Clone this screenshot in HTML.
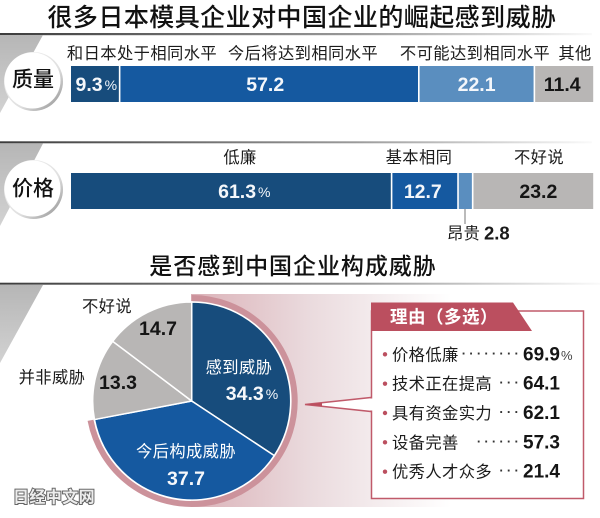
<!DOCTYPE html>
<html lang="zh">
<head>
<meta charset="utf-8">
<title>很多日本模具企业对中国企业的崛起感到威胁</title>
<style>
html,body{margin:0;padding:0;background:#fff;}
#chart{display:block;width:600px;height:518px;}
text{font-family:"Liberation Sans","Noto Sans CJK SC",sans-serif;dominant-baseline:central;}
.cjk{font-size:16.3px;letter-spacing:.4px;fill:#1c1c1c;}
.num{font-size:19.5px;font-weight:bold;}
.head{font-size:25px;font-weight:500;letter-spacing:.45px;fill:#111;text-anchor:middle;}
.mid{text-anchor:middle;}
</style>
</head>
<body>
<svg id="chart" xmlns="http://www.w3.org/2000/svg" width="600" height="518" viewBox="0 0 600 518">
<defs>
<linearGradient id="ruleGrad" x1="0" x2="1" y1="0" y2="0"><stop offset="0" stop-color="#3c3c3c"/><stop offset=".6" stop-color="#9a9a9a"/><stop offset="1" stop-color="#fafafa"/></linearGradient>
<linearGradient id="wedgeGrad" x1="0" x2="0" y1="0" y2="1"><stop offset="0" stop-color="#b6b6b6"/><stop offset="1" stop-color="#d2d2d2"/></linearGradient>
<linearGradient id="pinkGrad" x1="0" x2="1" y1="0" y2="0"><stop offset="0" stop-color="#dbb2b8"/><stop offset=".45" stop-color="#eadadd"/><stop offset="1" stop-color="#ffffff"/></linearGradient>
<linearGradient id="discGrad" x1="0" x2="1" y1="0" y2="1"><stop offset="0" stop-color="#f4f4f4"/><stop offset=".6" stop-color="#e0e0e0"/><stop offset="1" stop-color="#8a8a8a"/></linearGradient>
</defs>

<text class="head" x="302" y="18">很多日本模具企业对中国企业的崛起感到威胁</text>
<rect x="0" y="33" width="592" height="2.2" fill="url(#ruleGrad)"/>
<polygon points="0,35 43,35 0,113" fill="url(#wedgeGrad)"/>
<circle cx="33.5" cy="81.5" r="29.5" fill="url(#discGrad)"/>
<circle cx="32.5" cy="80.5" r="28" fill="#fff"/>
<text x="33" y="80" class="mid" font-size="21" font-weight="500" fill="#111">质量</text>

<text class="cjk mid" x="142" y="54">和日本处于相同水平</text>
<text class="cjk mid" x="303" y="54">今后将达到相同水平</text>
<text class="cjk mid" x="475" y="54">不可能达到相同水平</text>
<text class="cjk mid" x="575" y="54">其他</text>

<rect x="0" y="141.3" width="592" height="2" fill="url(#ruleGrad)"/>
<polygon points="0,143.5 43,143.5 0,226" fill="url(#wedgeGrad)"/>
<circle cx="33.5" cy="189.5" r="29.5" fill="url(#discGrad)"/>
<circle cx="32.5" cy="188.5" r="28" fill="#fff"/>
<text x="33" y="189" class="mid" font-size="21" font-weight="500" fill="#111">价格</text>

<text class="cjk mid" x="240" y="158">低廉</text>
<text class="cjk mid" x="419" y="158">基本相同</text>
<text class="cjk mid" x="539" y="158">不好说</text>
<line x1="465" y1="209" x2="465" y2="224" stroke="#777" stroke-width="1"/>
<text class="cjk" x="447" y="234">昂贵</text>
<text id="expensiveValue" x="484" y="233" font-size="18.5" font-weight="bold" fill="#1a1a1a"></text>

<text x="293" y="266" class="mid" font-size="23" font-weight="500" letter-spacing=".95" fill="#111">是否感到中国企业构成威胁</text>
<rect x="0" y="282.7" width="600" height="2" fill="url(#ruleGrad)"/>
<polygon points="0,285 43,285 0,363" fill="url(#wedgeGrad)"/>
<rect x="191" y="294" width="260" height="213" fill="url(#pinkGrad)"/>

<g id="bars"></g>
<g id="pie"></g>

<text class="cjk mid" x="107" y="307">不好说</text>
<text class="cjk mid" x="52" y="378">并非威胁</text>
<text class="cjk mid" x="239" y="368" style="fill:#fff">感到威胁</text>
<text class="cjk mid" x="186" y="452" style="fill:#fff">今后构成威胁</text>

<polygon points="305,404.5 371,397.5 371,411.5" fill="#fff" stroke="#c05a6a" stroke-width="1.5" stroke-linejoin="miter"/>
<polygon points="305,404.5 322,402.7 322,406.3" fill="#bb4f5f"/>
<rect x="371.5" y="311" width="212" height="187.5" fill="#fff" stroke="#c05a6a" stroke-width="1.5"/>
<rect x="370" y="398.5" width="4" height="12" fill="#fff"/>
<polygon points="371,302.5 513,302.5 532,331 371,331" fill="#bb4f5f"/>
<text x="390" y="317" font-size="17.5" font-weight="bold" fill="#fff" letter-spacing=".5">理由（多选）</text>
<g id="reasons"></g>

<text x="13" y="498" font-size="16" font-weight="bold" letter-spacing=".4" fill="#ededed" stroke="#666" stroke-width="2" paint-order="stroke">日经中文网</text>
</svg>

<script>
// Chart data
const qualityValues = [9.3, 57.2, 22.1, 11.4];
const priceValues = [61.3, 12.7, 2.8, 23.2];
const pieValues = [34.3, 37.7, 13.3, 14.7];
const reasonNames = ['价格低廉', '技术正在提高', '具有资金实力', '设备完善', '优秀人才众多'];
const reasonValues = [69.9, 64.1, 62.1, 57.3, 21.4];
const reasonDots = [8, 3, 3, 6, 3];

const NS = 'http://www.w3.org/2000/svg';
const segColors = ['#174c7c', '#1559a0', '#5a8ebf', '#b8b6b5'];
const pieColors = ['#174c7c', '#1559a0', '#b8b6b5', '#b8b6b5'];

function mk(tag, attrs, parent) {
  const el = document.createElementNS(NS, tag);
  for (const k in attrs) el.setAttribute(k, attrs[k]);
  parent.appendChild(el);
  return el;
}

// Horizontal percentage axis
const barX0 = 71, barX1 = 594;
function xScale(cum) { return barX0 + cum / 100 * (barX1 - barX0); }

function drawBar(values, y, h, colors, prefix, labelOffsets, textColors) {
  const g = document.getElementById('bars');
  let cum = 0;
  values.forEach(function (v, i) {
    const x0 = xScale(cum), x1 = xScale(cum + v);
    const r = mk('rect', {x: x0 + (i ? 0.8 : 0), y: y, width: x1 - x0 - (i ? 1.6 : 0.8), height: h, fill: colors[i]}, g);
    
    
    if (textColors[i]) {
      const t = mk('text', {x: (x0 + x1) / 2 + labelOffsets[i], y: y + h / 2 + 1, 'class': 'num', 'text-anchor': 'middle', fill: textColors[i]}, g);
      
      
      t.textContent = v.toFixed(1);
      if (i === 0) {
        const s = mk('tspan', {'font-size': '14', 'font-weight': 'normal', dx: '2'}, t);
        s.textContent = '%';
      }
    }
    cum += v;
  });
}

drawBar(qualityValues, 66, 36, segColors, 'quality-bar', [1, -4, 0, -2], ['#f4f7fb', '#f4f7fb', '#f4f7fb', '#151515']);
drawBar(priceValues, 173, 36, segColors, 'price-bar', [13, -2, 0, 5], ['#f4f7fb', '#f4f7fb', null, '#151515']);
document.getElementById('expensiveValue').textContent = priceValues[2].toFixed(1);

// Pie: angle scale starts at 12 o'clock, clockwise
const cx = 191.7, cy = 401, pieR = 99, ringR = 103;
function px(cum, r) { return cx + r * Math.sin(cum / 100 * 2 * Math.PI); }
function py(cum, r) { return cy - r * Math.cos(cum / 100 * 2 * Math.PI); }
const pieG = document.getElementById('pie');

const ringEnd = pieValues[0] + pieValues[1];
const ring = mk('path', {
  d: 'M' + px(0, ringR) + ' ' + py(0, ringR) + ' A' + ringR + ' ' + ringR + ' 0 ' + (ringEnd > 50 ? 1 : 0) + ' 1 ' + px(ringEnd, ringR) + ' ' + py(ringEnd, ringR),
  fill: 'none', stroke: '#cc929b', 'stroke-width': 6
}, pieG);



let pieCum = 0;
pieValues.forEach(function (v, i) {
  const a = pieCum, b = pieCum + v;
  const p = mk('path', {
    d: 'M' + cx + ' ' + cy + ' L' + px(a, pieR) + ' ' + py(a, pieR) + ' A' + pieR + ' ' + pieR + ' 0 ' + (v > 50 ? 1 : 0) + ' 1 ' + px(b, pieR) + ' ' + py(b, pieR) + ' Z',
    fill: pieColors[i], stroke: '#fff', 'stroke-width': 1.5
  }, pieG);
  
  
  pieCum = b;
});

function pieText(value, x, y, color, withPct) {
  const t = mk('text', {x: x, y: y, 'class': 'num', 'text-anchor': 'middle', fill: color}, pieG);
  
  
  t.textContent = value.toFixed(1);
  if (withPct) {
    const s = mk('tspan', {'font-size': '14', 'font-weight': 'normal', dx: '2'}, t);
    s.textContent = '%';
  }
}
pieText(pieValues[0], 252, 394, '#f6f8fb', true);
pieText(pieValues[1], 186, 479, '#f6f8fb', false);
pieText(pieValues[2], 118, 383, '#151515', false);
pieText(pieValues[3], 158, 329, '#151515', false);

// Reasons list
const listG = document.getElementById('reasons');
reasonNames.forEach(function (name, i) {
  const y = 354.3 + i * 29.35;
  const b = mk('circle', {cx: 385, cy: y, r: 2.2, fill: '#bb4f5f'}, listG);
  
  
  const t = mk('text', {x: 392, y: y + 1, 'class': 'cjk'}, listG);
  
  
  t.textContent = name;
  const d = mk('text', {x: 522, y: y - 1, 'text-anchor': 'end', 'font-size': '13', 'font-weight': 'bold', 'letter-spacing': '3.2', fill: '#333'}, listG);
  
  
  d.textContent = '·'.repeat(reasonDots[i]);
  const v = mk('text', {x: 523, y: y + 0.5, 'font-size': '19', 'font-weight': 'bold', fill: '#151515'}, listG);
  
  
  v.textContent = reasonValues[i].toFixed(1);
  if (i === 0) {
    const s = mk('tspan', {'font-size': '13', 'font-weight': 'normal', fill: '#444', dx: '1'}, v);
    s.textContent = '%';
  }
});
</script>
</body>
</html>
